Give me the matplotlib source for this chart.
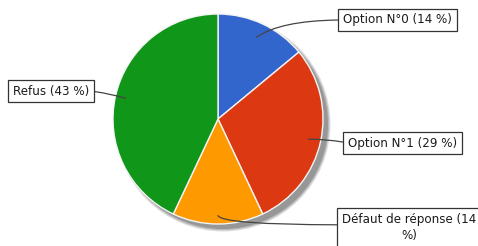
import numpy as np
import matplotlib
matplotlib.use("Agg")
import matplotlib.pyplot as plt
from matplotlib.patches import Circle

categories = ["Option N°0", "Option N°1", "Défaut de réponse", "Refus"]
values = [14, 29, 14, 43]
colors = ["#3366CC", "#DC3912", "#FF9900", "#109618"]
label_texts = ["Option N°0 (14 %)", "Option N°1 (29 %)", "Défaut de réponse (14\n%)", "Refus (43 %)"]

W, H = 478, 246
fig = plt.figure(figsize=(W / 100, H / 100), dpi=100)
ax = fig.add_axes([0, 0, 1, 1])
ax.set_xlim(0, W)
ax.set_ylim(0, H)
ax.set_aspect("equal")
ax.axis("off")

cx, cy, R = 218, 127, 105

# soft shadow
for dr, a in [(2.5, 0.25), (1.2, 0.35), (0, 0.5)]:
    ax.add_patch(Circle((cx + 5, cy - 5), R + dr, color="#777777", alpha=a, lw=0, zorder=0))

wedges, _ = ax.pie(values, colors=colors, startangle=90, counterclock=False,
                   center=(cx, cy), radius=R, frame=True,
                   wedgeprops=dict(edgecolor="#f4f4f4", linewidth=1.0))
for w in wedges:
    w.set_zorder(2)
ax.set_xlim(0, W)
ax.set_ylim(0, H)
ax.axis("off")

# label layout: (text x, text y, ha, va, relpos, connectionstyle, anchor radius frac)
layout = [
    (343, 226, "left", "center", (0, 0.5), "angle3,angleA=0,angleB=35", 0.86),
    (348, 103, "left", "center", (0, 0.5), "arc3,rad=0.05", 0.88),
    (342, 33, "left", "top", (0, 0.6), "angle3,angleA=0,angleB=-65", 0.92),
    (13, 155, "left", "center", (1, 0.5), "arc3,rad=-0.05", 0.90),
]

for w, txt, (tx, ty, ha, va, rp, cs, rf) in zip(wedges, label_texts, layout):
    ang = np.deg2rad((w.theta1 + w.theta2) / 2)
    ax_ = w.center[0] + rf * w.r * np.cos(ang)
    ay_ = w.center[1] + rf * w.r * np.sin(ang)
    ax.annotate(txt, xy=(ax_, ay_), xytext=(tx, ty), ha=ha, va=va,
                fontsize=8.6, color="#1a1a1a", multialignment="center",
                linespacing=1.35,
                bbox=dict(boxstyle="square,pad=0.4", fc="white", ec="#333333", lw=0.9),
                arrowprops=dict(arrowstyle="-", color="#444444", lw=0.9,
                                connectionstyle=cs, relpos=rp, shrinkA=0, shrinkB=0),
                zorder=5, annotation_clip=False)

fig.savefig("out.png", dpi=100)
